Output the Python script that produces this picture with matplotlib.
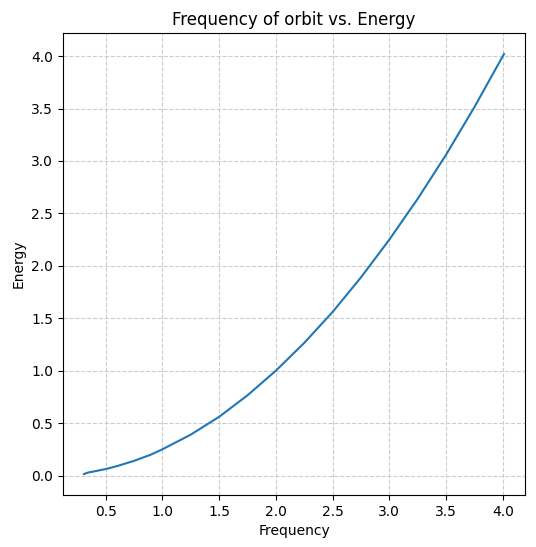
import matplotlib
matplotlib.use("Agg")
import matplotlib.pyplot as plt

frequency = [0.31, 0.35, 0.4, 0.5, 0.6, 0.75, 0.9, 1.0, 1.25, 1.5, 1.75, 2.0, 2.25, 2.5, 2.75, 3.0, 3.25, 3.5, 3.75, 4.01]
energy = [0.015, 0.03, 0.04, 0.062, 0.09, 0.14, 0.2, 0.25, 0.39, 0.56, 0.765, 1.0, 1.265, 1.56, 1.89, 2.25, 2.64, 3.06, 3.515, 4.02]

fig = plt.figure(figsize=(5.36, 5.47), dpi=100)
ax = fig.add_axes([63/536, 52/547, 462/536, 462/547])
ax.plot(frequency, energy, color="#1f77b4", lw=1.5)
ax.grid(True, linestyle="--", color="#cccccc", lw=0.8)
ax.set_xlabel("Frequency")
ax.set_ylabel("Energy")
ax.set_title("Frequency of orbit vs. Energy")
fig.savefig("out.png", dpi=100)
